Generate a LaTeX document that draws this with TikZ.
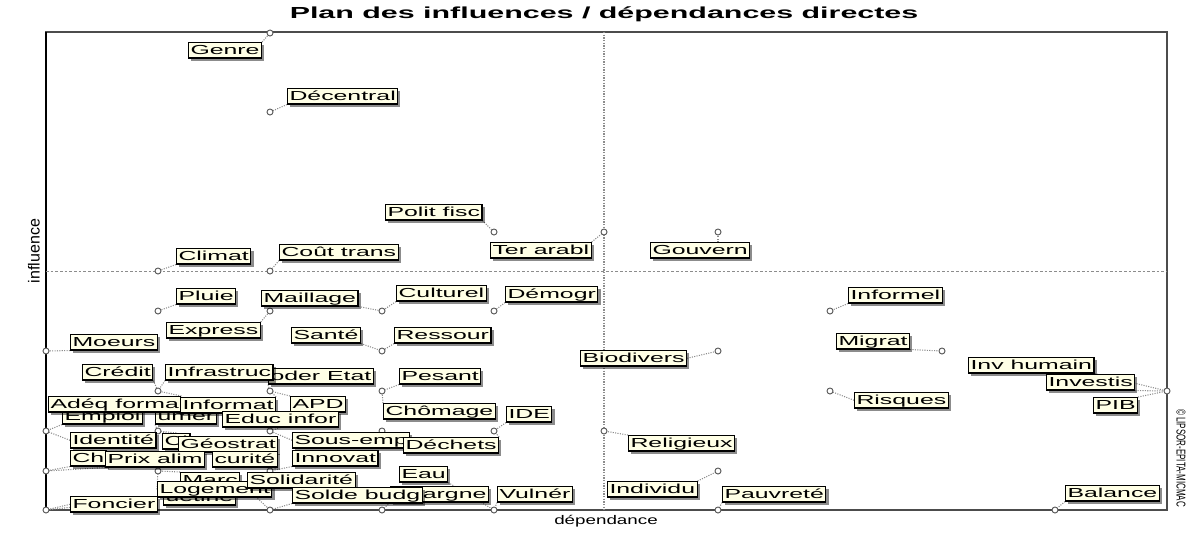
\documentclass[tikz,border=0pt]{standalone}
\usepackage{fontspec}
\setmainfont{Liberation Sans}
\usetikzlibrary{shadows}
\definecolor{cream}{HTML}{FFFFE6}
\newcommand{\wide}[1]{\scalebox{1.9}[1]{#1}}
\pgfdeclarelayer{bg}
\pgfsetlayers{bg,main}
\begin{document}
\begin{tikzpicture}[x=0.75pt,y=-0.75pt,
  lbl/.style={draw=black, line width=0.8pt, fill=cream, anchor=north west,
    inner xsep=1.5pt, inner ysep=1.3pt, text height=7.3pt, text depth=1.7pt,
    font=\fontsize{9.8}{10}\selectfont,
    drop shadow={shadow xshift=2pt, shadow yshift=-2pt, fill=black, opacity=0.45}},
  pt/.style={circle, draw=black!65, fill=white, line width=0.7pt, inner sep=0pt, minimum size=4.5pt},
  link/.style={densely dotted, black!45, line width=0.8pt}]
\useasboundingbox (0,0) rectangle (1191,533);

% ---- variable positions (influence / dependence grid) ----
\node[pt] (m2-0) at (270,33) {};
\node[pt] (m2-2) at (270,112) {};
\node[pt] (m4-5) at (494,232) {};
\node[pt] (m5-5) at (604,232) {};
\node[pt] (m6-5) at (718,232) {};
\node[pt] (m1-6) at (158,271) {};
\node[pt] (m2-6) at (270,271) {};
\node[pt] (m1-7) at (158,311) {};
\node[pt] (m2-7) at (270,311) {};
\node[pt] (m3-7) at (382,311) {};
\node[pt] (m4-7) at (494,311) {};
\node[pt] (m7-7) at (830,311) {};
\node[pt] (m0-8) at (46,351) {};
\node[pt] (m3-8) at (382,351) {};
\node[pt] (m6-8) at (718,351) {};
\node[pt] (m8-8) at (942,351) {};
\node[pt] (m1-9) at (158,391) {};
\node[pt] (m2-9) at (270,391) {};
\node[pt] (m3-9) at (382,391) {};
\node[pt] (m7-9) at (830,391) {};
\node[pt] (m10-9) at (1167,391) {};
\node[pt] (m0-10) at (46,431) {};
\node[pt] (m1-10) at (158,431) {};
\node[pt] (m2-10) at (270,431) {};
\node[pt] (m3-10) at (382,431) {};
\node[pt] (m4-10) at (494,431) {};
\node[pt] (m5-10) at (604,431) {};
\node[pt] (m0-11) at (46,471) {};
\node[pt] (m1-11) at (158,471) {};
\node[pt] (m2-11) at (270,471) {};
\node[pt] (m6-11) at (718,471) {};
\node[pt] (m0-12) at (46,510) {};
\node[pt] (m2-12) at (270,510) {};
\node[pt] (m3-12) at (382,510) {};
\node[pt] (m4-12) at (494,510) {};
\node[pt] (m6-12) at (718,510) {};
\node[pt] (m9-12) at (1055,510) {};

% ---- labels ----
\node[lbl] (genre) at (188,42) {\wide{Genre}};
\node[lbl] (decen) at (287,88) {\wide{Décentral}};
\node[lbl] (polit) at (385,204) {\wide{Polit fisc}};
\node[lbl] (terar) at (490,242) {\wide{Ter arabl}};
\node[lbl] (gouv) at (650,242) {\wide{Gouvern}};
\node[lbl] (climat) at (176,248) {\wide{Climat}};
\node[lbl] (cout) at (279,244) {\wide{Coût trans}};
\node[lbl] (pluie) at (176,288) {\wide{Pluie}};
\node[lbl] (maill) at (261,290) {\wide{Maillage}};
\node[lbl] (cult) at (396,285) {\wide{Culturel}};
\node[lbl] (demog) at (505,286) {\wide{Démogr}};
\node[lbl] (expr) at (166,322) {\wide{Express}};
\node[lbl] (sante) at (291,327) {\wide{Santé}};
\node[lbl] (ress) at (394,327) {\wide{Ressour}};
\node[lbl] (moeurs) at (70,334) {\wide{Moeurs}};
\node[lbl] (moder) at (268,368) {\wide{oder Etat}};
\node[lbl] (infra) at (165,364) {\wide{Infrastruc}};
\node[lbl] (credit) at (82,364) {\wide{Crédit}};
\node[lbl] (pesant) at (399,368) {\wide{Pesant}};
\node[lbl] (emploi) at (62,408) {\wide{Emploi}};
\node[lbl] (umer) at (155,408) {\wide{umer}};
\node[lbl] (adeq) at (48,396) {\wide{Adéq forma}};
\node[lbl] (inform) at (180,397) {\wide{Informat}};
\node[lbl] (apd) at (290,396) {\wide{APD}};
\node[lbl] (educ) at (222,411) {\wide{Educ infor}};
\node[lbl] (chom) at (383,403) {\wide{Chômage}};
\node[lbl] (ide) at (506,406) {\wide{IDE}};
\node[lbl] (ident) at (70,432) {\wide{Identité}};
\node[lbl] (cl) at (162,433) {\wide{Cl}};
\node[lbl] (geos) at (178,436) {\wide{Géostrat}};
\node[lbl] (sous) at (292,432) {\wide{Sous-emp}};
\node[lbl] (dech) at (403,437) {\wide{Déchets}};
\node[lbl] (ch) at (70,450) {\wide{Ch}};
\node[lbl] (prix) at (105,451) {\wide{Prix alim}};
\node[lbl] (secu) at (212,451) {\wide{curité}};
\node[lbl] (innov) at (292,450) {\wide{Innovat}};
\node[lbl] (eau) at (399,466) {\wide{Eau}};
\node[lbl] (uetine) at (163,489) {\wide{uetine}};
\node[lbl] (marc) at (180,472) {\wide{Marc}};
\node[lbl] (loge) at (157,481) {\wide{Logement}};
\node[lbl] (solid) at (247,472) {\wide{Solidarité}};
\node[lbl] (foncier) at (70,496) {\wide{Foncier}};
\node[lbl] (eparg) at (390,486) {\wide{Epargne}};
\node[lbl] (solde) at (292,487) {\wide{Solde budg}};
\node[lbl] (vuln) at (497,486) {\wide{Vulnér}};
\node[lbl] (biod) at (580,350) {\wide{Biodivers}};
\node[lbl] (relig) at (628,435) {\wide{Religieux}};
\node[lbl] (indiv) at (607,481) {\wide{Individu}};
\node[lbl] (pauv) at (722,486) {\wide{Pauvreté}};
\node[lbl] (infor) at (848,287) {\wide{Informel}};
\node[lbl] (migr) at (836,333) {\wide{Migrat}};
\node[lbl] (invh) at (968,357) {\wide{Inv humain}};
\node[lbl] (invest) at (1046,374) {\wide{Investis}};
\node[lbl] (risq) at (854,392) {\wide{Risques}};
\node[lbl] (pib) at (1093,397) {\wide{PIB}};
\node[lbl] (balance) at (1065,485) {\wide{Balance}};

% ---- titles ----
\node (title) at (604,14) {\fontsize{12}{14}\selectfont\bfseries\scalebox{1.9}[1]{Plan des influences / dépendances directes}};
\node[rotate=90] (yaxis) at (34,251) {\fontsize{12}{14}\selectfont influence};
\node (xaxis) at (606,521) {\fontsize{9.4}{10}\selectfont\scalebox{1.5}[1]{dépendance}};
\node[rotate=-90] (copy) at (1181,458) {\fontsize{6}{7}\selectfont\scalebox{1}[1.6]{© LIPSOR-EPITA-MICMAC}};

\begin{pgfonlayer}{bg}
  % frame and quadrant separators
  \draw[black!70, line width=1pt] (46,32) rectangle (1167,510);
  \draw[black, line width=1.6pt] (46,32) -- (46,510);
  \draw[black!45, dashed, dash pattern=on 2pt off 1.5pt] (46,271) -- (1167,271);
  \draw[black!45, densely dotted, line width=1pt] (604,32) -- (604,510);
  % label connectors
  \draw[link] (genre.north east) -- (m2-0);
  \draw[link] (decen.south west) -- (m2-2);
  \draw[link] (polit.south east) -- (m4-5);
  \draw[link] (terar.north east) -- (m5-5);
  \draw[link] (m6-5 |- gouv.north) -- (m6-5);
  \draw[link] (climat.south west) -- (m1-6);
  \draw[link] (cout.south west) -- (m2-6);
  \draw[link] (pluie.south west) -- (m1-7);
  \draw[link] (maill.south east) -- (m3-7);
  \draw[link] (cult.south west) -- (m3-7);
  \draw[link] (demog.south west) -- (m4-7);
  \draw[link] (expr.north east) -- (m2-7);
  \draw[link] (sante.south east) -- (m3-8);
  \draw[link] (ress.south west) -- (m3-8);
  \draw[link] (moeurs.south west) -- (m0-8);
  \draw[link] (moder.south west) -- (m2-9);
  \draw[link] (infra.south west) -- (m1-9);
  \draw[link] (credit.south east) -- (m1-9);
  \draw[link] (pesant.south west) -- (m3-9);
  \draw[link] (chom.north west) -- (m3-9);
  \draw[link] (emploi.south west) -- (m0-10);
  \draw[link] (adeq.north east) -- (m1-9);
  \draw[link] (inform.north east) -- (m2-9);
  \draw[link] (apd.north west) -- (m2-9);
  \draw[link] (umer.south west) -- (m1-10);
  \draw[link] (educ.south) -- (m2-10);
  \draw[link] (ide.south west) -- (m4-10);
  \draw[link] (dech.north east) -- (m4-10);
  \draw[link] (ident.west) -- (m0-10);
  \draw[link] (cl.north) -- (m1-10);
  \draw[link] (geos.north west) -- (m1-10);
  \draw[link] (sous.west) -- (m2-10);
  \draw[link] (sous.south east) -- (m3-10);
  \draw[link] (ch.south west) -- (m0-11);
  \draw[link] (prix.south west) -- (m0-11);
  \draw[link] (secu.south east) -- (m2-11);
  \draw[link] (innov.south west) -- (m2-11);
  \draw[link] (marc.north west) -- (m1-11);
  \draw[link] (loge.west) -- (m1-11);
  \draw[link] (solid.south west) -- (m2-12);
  \draw[link] (uetine.west) -- (m0-12);
  \draw[link] (foncier.west) -- (m0-12);
  \draw[link] (solde.south west) -- (m2-12);
  \draw[link] (eparg.south west) -- (m3-12);
  \draw[link] (eau.south east) -- (m4-12);
  \draw[link] (vuln.south west) -- (m4-12);
  \draw[link] (biod.east) -- (m6-8);
  \draw[link] (relig.north west) -- (m5-10);
  \draw[link] (indiv.north east) -- (m6-11);
  \draw[link] (pauv.south west) -- (m6-12);
  \draw[link] (infor.south west) -- (m7-7);
  \draw[link] (migr.south east) -- (m8-8);
  \draw[link] (invh.south east) -- (m10-9);
  \draw[link] (invest.south east) -- (m10-9);
  \draw[link] (risq.west) -- (m7-9);
  \draw[link] (pib.north east) -- (m10-9);
  \draw[link] (balance.south west) -- (m9-12);
\end{pgfonlayer}
\end{tikzpicture}
\end{document}
